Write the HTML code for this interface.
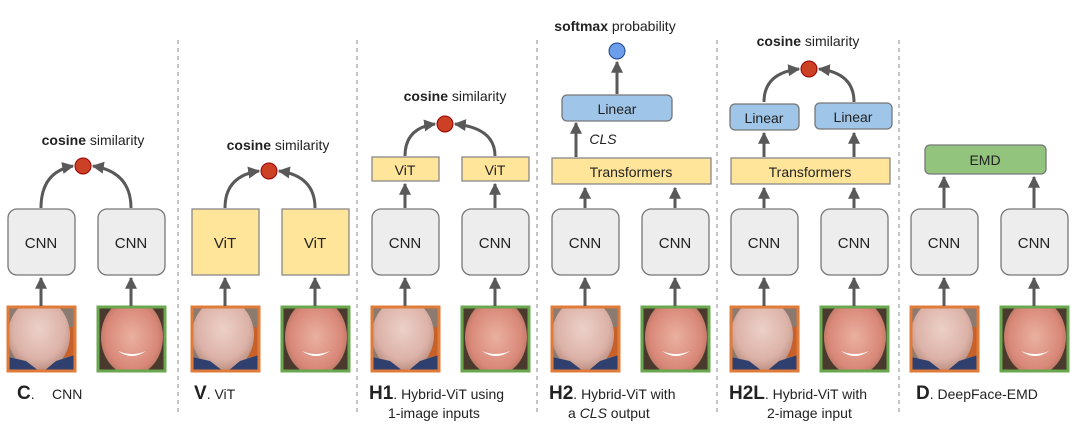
<!DOCTYPE html>
<html><head><meta charset="utf-8"><style>
html,body{margin:0;padding:0;background:#fff;}
svg{display:block;font-family:"Liberation Sans",Arial,sans-serif;}
</style></head><body>
<svg width="1080" height="434" viewBox="0 0 1080 434" xmlns="http://www.w3.org/2000/svg">
<defs>
<marker id="ah" viewBox="0 0 10 10" refX="9" refY="5" markerWidth="4" markerHeight="4" orient="auto-start-reverse">
<path d="M0,0 L10,5 L0,10 z" fill="#595959"/></marker>
<clipPath id="cp"><rect x="0" y="0" width="67" height="64"/></clipPath>
<radialGradient id="skin1" cx="50%" cy="42%" r="60%"><stop offset="0" stop-color="#ecd0c8"/><stop offset="0.7" stop-color="#dcb2a8"/><stop offset="1" stop-color="#b88a7c"/></radialGradient>
<radialGradient id="skin2" cx="50%" cy="50%" r="60%"><stop offset="0" stop-color="#eab0a0"/><stop offset="0.7" stop-color="#d98878"/><stop offset="1" stop-color="#a86a58"/></radialGradient>
<g id="f1"><g clip-path="url(#cp)"><rect x="0" y="0" width="67" height="64" fill="#8a7a70"/><rect x="50" y="20" width="17" height="30" fill="#c8602a"/><ellipse cx="31" cy="28" rx="31" ry="36" fill="url(#skin1)"/><path d="M0,50 L18,54 L31,64 L0,64z M67,48 L48,54 L36,64 L67,64z" fill="#2f3f6e"/></g><rect x="0" y="0" width="67" height="64" fill="none" stroke="#e07b39" stroke-width="3"/></g>
<g id="f2"><g clip-path="url(#cp)"><rect x="0" y="0" width="67" height="64" fill="#4a3a2e"/><ellipse cx="34" cy="30" rx="31" ry="38" fill="url(#skin2)"/><path d="M20,44 Q34,54 48,44 Q34,50 20,44z" fill="#fff"/></g><rect x="0" y="0" width="67" height="64" fill="none" stroke="#6aa84f" stroke-width="3"/></g>
</defs>
<g stroke="#888" stroke-width="1" stroke-dasharray="4,4">
<line x1="178" y1="40" x2="178" y2="416"/><line x1="357" y1="40" x2="357" y2="416"/><line x1="537" y1="40" x2="537" y2="416"/><line x1="717" y1="40" x2="717" y2="416"/><line x1="899" y1="40" x2="899" y2="416"/>
</g>
<use href="#f1" x="8" y="307"/><use href="#f2" x="98" y="307"/>
<use href="#f1" x="192" y="307"/><use href="#f2" x="282" y="307"/>
<use href="#f1" x="372" y="307"/><use href="#f2" x="462" y="307"/>
<use href="#f1" x="552" y="307"/><use href="#f2" x="642" y="307"/>
<use href="#f1" x="731" y="307"/><use href="#f2" x="821" y="307"/>
<use href="#f1" x="911" y="307"/><use href="#f2" x="1001" y="307"/>
<g stroke="#595959" stroke-width="3" marker-end="url(#ah)" fill="none">
<line x1="41" y1="306" x2="41" y2="278"/><line x1="131" y1="306" x2="131" y2="278"/>
<line x1="225" y1="306" x2="225" y2="278"/><line x1="315" y1="306" x2="315" y2="278"/>
<line x1="405" y1="306" x2="405" y2="278"/><line x1="495" y1="306" x2="495" y2="278"/>
<line x1="585" y1="306" x2="585" y2="278"/><line x1="675" y1="306" x2="675" y2="278"/>
<line x1="764" y1="306" x2="764" y2="278"/><line x1="854" y1="306" x2="854" y2="278"/>
<line x1="944" y1="306" x2="944" y2="278"/><line x1="1034" y1="306" x2="1034" y2="278"/>
<line x1="405" y1="208" x2="405" y2="184"/><line x1="495" y1="208" x2="495" y2="184"/>
<line x1="585" y1="208" x2="585" y2="188"/><line x1="675" y1="208" x2="675" y2="188"/>
<line x1="764" y1="208" x2="764" y2="188"/><line x1="854" y1="208" x2="854" y2="188"/>
<line x1="944" y1="208" x2="944" y2="177"/><line x1="1034" y1="208" x2="1034" y2="177"/>
<line x1="576" y1="157" x2="576" y2="123"/><line x1="617" y1="94" x2="617" y2="62"/>
<line x1="764" y1="157" x2="764" y2="133"/><line x1="854" y1="157" x2="854" y2="133"/>
<path d="M41,208 Q41,172 73,166"/><path d="M131,208 Q131,172 93,166"/>
<path d="M225,208 Q225,176 259,171"/><path d="M315,208 Q315,176 279,171"/>
<path d="M405,156 Q405,128 435,124"/><path d="M495,156 Q495,128 455,124"/>
<path d="M764,102 Q764,73 799,69"/><path d="M854,102 Q854,73 819,69"/>
</g>
<g fill="#ededed" stroke="#777" stroke-width="1.3">
<rect x="8" y="209" width="67" height="66" rx="9"/><rect x="98" y="209" width="67" height="66" rx="9"/>
<rect x="372" y="209" width="67" height="66" rx="9"/><rect x="462" y="209" width="67" height="66" rx="9"/>
<rect x="552" y="209" width="67" height="66" rx="9"/><rect x="642" y="209" width="67" height="66" rx="9"/>
<rect x="731" y="209" width="67" height="66" rx="9"/><rect x="821" y="209" width="67" height="66" rx="9"/>
<rect x="911" y="209" width="67" height="66" rx="9"/><rect x="1001" y="209" width="67" height="66" rx="9"/>
</g>
<g fill="#ffe59a" stroke="#888" stroke-width="1.3">
<rect x="192" y="209" width="67" height="66"/><rect x="282" y="209" width="67" height="66"/>
<rect x="372" y="157" width="67" height="24"/><rect x="462" y="157" width="67" height="24"/>
<rect x="552" y="158" width="159" height="26"/><rect x="731" y="158" width="159" height="26"/>
</g>
<g fill="#9fc5e8" stroke="#777" stroke-width="1.3">
<rect x="562" y="95" width="110" height="26" rx="5"/>
<rect x="730" y="104" width="69" height="26" rx="5"/><rect x="815" y="103" width="77" height="26" rx="5"/>
</g>
<rect x="925" y="145" width="121" height="29" rx="5" fill="#93c47d" stroke="#777" stroke-width="1.3"/>
<g fill="#cc4125" stroke="#990000" stroke-width="1">
<circle cx="83" cy="166" r="8"/><circle cx="269" cy="171" r="8"/><circle cx="445" cy="124" r="8"/><circle cx="809" cy="69" r="8"/>
</g>
<circle cx="617" cy="51" r="8" fill="#6d9eeb" stroke="#1c4587" stroke-width="1"/>
<g font-size="15" fill="#222" text-anchor="middle">
<text x="41" y="248">CNN</text><text x="131" y="248">CNN</text>
<text x="225" y="248">ViT</text><text x="315" y="248">ViT</text>
<text x="405" y="248">CNN</text><text x="495" y="248">CNN</text>
<text x="585" y="248">CNN</text><text x="675" y="248">CNN</text>
<text x="764" y="248">CNN</text><text x="854" y="248">CNN</text>
<text x="944" y="248">CNN</text><text x="1034" y="248">CNN</text>
<text x="405" y="175" font-size="14">ViT</text><text x="495" y="175" font-size="14">ViT</text>
<text x="631" y="177" font-size="14">Transformers</text><text x="810" y="177" font-size="14">Transformers</text>
<text x="617" y="114" font-size="14">Linear</text>
<text x="764" y="123" font-size="14">Linear</text><text x="853" y="122" font-size="14">Linear</text>
<text x="985" y="165" font-size="14">EMD</text>
</g>
<text x="603" y="144" font-size="14" font-style="italic" fill="#222" text-anchor="middle">CLS</text>
<g font-size="14" fill="#222" text-anchor="middle">
<text x="93" y="145"><tspan font-weight="bold">cosine</tspan> similarity</text>
<text x="278" y="150"><tspan font-weight="bold">cosine</tspan> similarity</text>
<text x="455" y="101"><tspan font-weight="bold">cosine</tspan> similarity</text>
<text x="615" y="31"><tspan font-weight="bold">softmax</tspan> probability</text>
<text x="808" y="46"><tspan font-weight="bold">cosine</tspan> similarity</text>
</g>
<g font-size="14" fill="#222">
<text x="17" y="399"><tspan font-weight="bold" font-size="19">C</tspan>.</text>
<text x="52" y="399">CNN</text>
<text x="194" y="399"><tspan font-weight="bold" font-size="19">V</tspan>. ViT</text>
<text x="369" y="399"><tspan font-weight="bold" font-size="19">H1</tspan>. Hybrid-ViT using</text>
<text x="388" y="418">1-image inputs</text>
<text x="549" y="399"><tspan font-weight="bold" font-size="19">H2</tspan>. Hybrid-ViT with</text>
<text x="568" y="418">a <tspan font-style="italic">CLS</tspan> output</text>
<text x="729" y="399"><tspan font-weight="bold" font-size="19">H2L</tspan>. Hybrid-ViT with</text>
<text x="767" y="418">2-image input</text>
<text x="916" y="399"><tspan font-weight="bold" font-size="19">D</tspan>. DeepFace-EMD</text>
</g>
</svg>
</body></html>
